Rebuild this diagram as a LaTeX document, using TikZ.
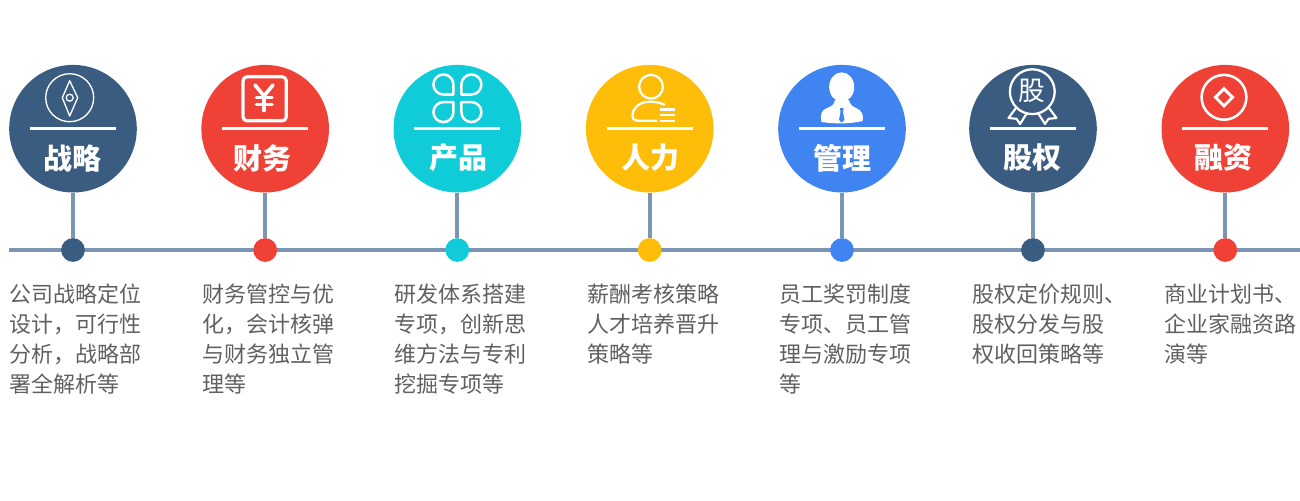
\documentclass[tikz,border=0pt]{standalone}
\usepackage{fontspec}
\setmainfont{Noto Sans CJK SC}
\definecolor{navy}{HTML}{3A5C80}
\definecolor{redc}{HTML}{EF4136}
\definecolor{teal2}{HTML}{10CBD8}
\definecolor{amber}{HTML}{FDBD08}
\definecolor{blue2}{HTML}{4084F2}
\definecolor{linec}{HTML}{7A96B4}
\definecolor{bodyc}{HTML}{606060}
\tikzset{
  disc/.style={circle,fill=#1,minimum size=95.7pt,inner sep=0pt},
  dotc/.style={circle,fill=#1,minimum size=17.8pt,inner sep=0pt},
  axisline/.style={draw=linec,line width=3pt},
  stemline/.style={draw=linec,line width=3pt},
  barline/.style={draw=white,line width=2.4pt},
  icon/.style={draw=white,line width=#1,line join=round,line cap=round},
  icon/.default=1.5pt,
  headlabel/.style={text=white,inner sep=0pt,font=\fontsize{21.75pt}{24pt}\selectfont\bfseries},
  bodytext/.style={text=bodyc,inner sep=0pt,anchor=north west,align=left,font=\fontsize{16.5pt}{22.5pt}\selectfont},
}
% id, centre x, colour, label, label x
\newcommand{\stage}[5]{%
  \node[disc=#3] (c#1) at (#2,128.7) {};
  \node[dotc=#3] (d#1) at (#2,250) {};
  \draw[stemline] (c#1) -- (d#1);
  \draw[barline] ([shift={(-43,0)}]c#1.center) -- ([shift={(43,0)}]c#1.center);
  \node[headlabel] (l#1) at (#5,158) {#4};
}
\begin{document}
\begin{tikzpicture}[x=0.75pt,y=-0.75pt]
\useasboundingbox (0,0) rectangle (1300,500);
\coordinate (axisL) at (9,249.5);
\coordinate (axisR) at (1300,249.5);
\draw[axisline] (axisL) -- (axisR);
\stage{a}{73}{navy}{战略}{72}
\stage{b}{265.2}{redc}{财务}{262}
\stage{c}{457.3}{teal2}{产品}{458}
\stage{d}{649.7}{amber}{人力}{650.7}
\stage{e}{842}{blue2}{管理}{842}
\stage{f}{1033}{navy}{股权}{1032.3}
\stage{g}{1225.3}{redc}{融资}{1223.3}

% compass
\draw[icon=1pt] (69.7,97.7) circle[radius=18pt];
\draw[icon=1pt] (69.7,80.7) -- (77.7,97.7) -- (69.7,116) -- (62.3,97.7) -- cycle;
\draw[icon=1pt] (69.7,97.7) circle[radius=2.6pt];

% yen
\draw[icon=2.4pt,rounded corners=3pt] (243,76.8) rectangle (286.3,120.8);
\draw[icon=2.7pt] (255,85) -- (264,96) -- (273,85);
\draw[icon=2.7pt] (264,96) -- (264,110.5);
\draw[icon=2.7pt] (256.5,97.5) -- (272,97.5);
\draw[icon=2.7pt] (256.5,104.5) -- (272,104.5);

% clover
\foreach \sx/\sy in {1/1,-1/1,1/-1,-1/-1}{
  \begin{scope}[shift={(457.4,98.3)},xscale=\sx,yscale=\sy]
    \draw[icon=1.9pt] (-4,-3.8) -- ++(-10,0) arc[start angle=270,end angle=0,radius=7.5pt] -- cycle;
  \end{scope}
}

% person
\draw[icon=1.7pt] (651,86.7) circle[radius=8.9pt];
\draw[icon=1.7pt] (664.3,104.5) .. controls (658,101.5) and (650,101.5) .. (646,102) .. controls (638,103) and (632,110) .. (632.5,115) .. controls (632.8,119) and (634,120.7) .. (637,120.7) -- (656.5,120.7);
\foreach \yy in {109.5,115,120.7}{
  \draw[draw=white,line width=1.7pt] (659.5,\yy) -- (674.5,\yy);
}

% manager
\fill[white] (841.7,87) ellipse[x radius=9.4pt,y radius=11pt];
\fill[white] (821.5,122) .. controls (820,116) and (821,110) .. (827,108) .. controls (832,106) and (834,105) .. (835,100) -- (849,100) .. controls (850,105) and (852,106) .. (856,108) .. controls (862,110) and (864,116) .. (862.5,121) .. controls (850,124) and (835,124) .. (821.5,122) -- cycle;
\fill[blue2] (840,108) -- (843.5,108) -- (843,112) -- (844.5,120) -- (841.7,122.5) -- (839,120) -- (840.5,112) -- cycle;

% medal
\draw[icon=1.7pt] (1032.3,91.7) circle[radius=16.8pt];
\node[text=white,inner sep=0pt,font=\fontsize{20pt}{22pt}\selectfont] (medal) at (1032.3,91) {股};
\foreach \sx in {1,-1}{
  \begin{scope}[shift={(1032.5,0)},xscale=\sx]
    \draw[icon=1.6pt] (-16.5,108) -- (-24,118) -- (-16,118.8) -- (-12.5,124) -- (-5.5,113);
  \end{scope}
}

% coin
\draw[icon=1.9pt] (1224,97.3) circle[radius=16.8pt];
\draw[icon=2.2pt,line join=miter] (1224,88.7) -- (1232.5,97.3) -- (1224,105.9) -- (1215.5,97.3) -- cycle;

% body
\node[bodytext] (ta) at (9.3,284) {公司战略定位\\设计，可行性\\分析，战略部\\署全解析等};
\node[bodytext] (tb) at (202,284) {财务管控与优\\化，会计核弹\\与财务独立管\\理等};
\node[bodytext] (tc) at (394,284) {研发体系搭建\\专项，创新思\\维方法与专利\\挖掘专项等};
\node[bodytext] (td) at (587,284) {薪酬考核策略\\人才培养晋升\\策略等};
\node[bodytext] (te) at (779,284) {员工奖罚制度\\专项、员工管\\理与激励专项\\等};
\node[bodytext] (tf) at (972,284) {股权定价规则、\\股权分发与股\\权收回策略等};
\node[bodytext] (tg) at (1164,284) {商业计划书、\\企业家融资路\\演等};
\end{tikzpicture}
\end{document}
